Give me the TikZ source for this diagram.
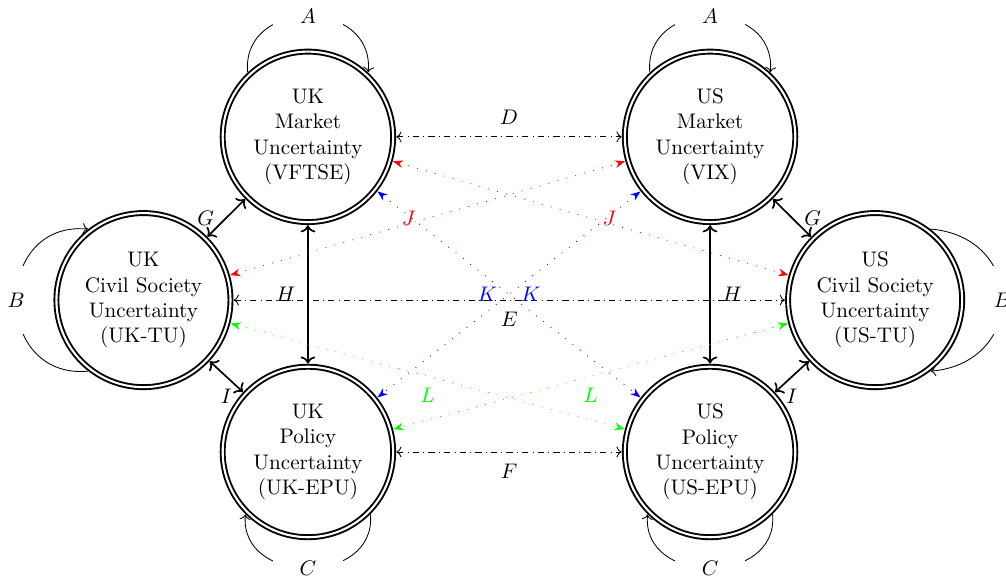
\documentclass[tikz,border=0pt]{standalone}
\usepackage{xcolor}
\usepackage{tikz}
\usetikzlibrary{arrows.meta}

\begin{document}
\begin{tikzpicture}[
    unc/.style={circle, draw, double, line width=0.9pt, double distance=1pt,
      minimum size=2.84cm, align=center, outer sep=1.5pt},
    link/.style={<->, thick},
    cross/.style={<->, dash dot},
    spill/.style={{Stealth}-{Stealth}, loosely dotted},
    edge label/.style={inner sep=5.5pt},
    loop label/.style={fill=white, inner xsep=0.45cm},
    side label/.style={fill=white, inner ysep=0.45cm},
  ]
  \useasboundingbox (-8.48,-4.67) rectangle (8.28,5);

  \node[unc] (ukm) at (-3.35, 2.72)  {UK\\Market\\Uncertainty\\(VFTSE)};
  \node[unc] (usm) at (3.35, 2.72)   {US\\Market\\Uncertainty\\(VIX)};
  \node[unc, minimum size=2.9cm] (ukc) at (-6.09, 0) {UK\\Civil Society\\Uncertainty\\(UK-TU)};
  \node[unc, minimum size=2.9cm] (usc) at (6.1, 0)   {US\\Civil Society\\Uncertainty\\(US-TU)};
  \node[unc] (ukp) at (-3.35, -2.53) {UK\\Policy\\Uncertainty\\(UK-EPU)};
  \node[unc] (usp) at (3.35, -2.53)  {US\\Policy\\Uncertainty\\(US-EPU)};

  \draw[->] (ukm.133) .. controls +(95:1.25) and +(85:1.25) .. node[loop label] {$A$} (ukm.47);
  \draw[->] (usm.133) .. controls +(95:1.25) and +(85:1.25) .. node[loop label] {$A$} (usm.47);
  \draw[->] (ukc.232) .. controls +(185:1.6) and +(175:1.6) .. node[side label] {$B$} (ukc.128);
  \draw[->] (usc.52) .. controls +(-5:1.6) and +(5:1.6) .. node[side label] {$B$} (usc.-52);
  \draw[->] (ukp.-45) .. controls +(-85:1.2) and +(-95:1.2) .. node[loop label] {$C$} (ukp.-135);
  \draw[->] (usp.-45) .. controls +(-85:1.2) and +(-95:1.2) .. node[loop label] {$C$} (usp.-135);

  \draw[cross] (ukm) -- node[edge label, above] {$D$} (usm);
  \draw[cross] (ukc) -- node[edge label, below] {$E$} (usc);
  \draw[cross] (ukp) -- node[edge label, below] {$F$} (usp);

  \draw[link] (ukm) -- node[edge label, left]  {$G$} (ukc);
  \draw[link] (usm) -- node[edge label, right] {$G$} (usc);
  \draw[link] (ukm) -- node[edge label, left]  {$H$} (ukp);
  \draw[link] (usm) -- node[edge label, right] {$H$} (usp);
  \draw[link] (ukc) -- node[edge label, below] {$I$} (ukp);
  \draw[link] (usc) -- node[edge label, below] {$I$} (usp);

  \draw[spill, red] (ukc) -- node[edge label, left]  {$J$} (usm);
  \draw[spill, red] (ukm) -- node[edge label, right] {$J$} (usc);
  \draw[spill, blue] (ukm) -- node[edge label, left]  {$K$} (usp);
  \draw[spill, blue] (usm) -- node[edge label, right] {$K$} (ukp);
  \draw[spill, green] (ukc) -- node[edge label, below] {$L$} (usp);
  \draw[spill, green] (usc) -- node[edge label, below] {$L$} (ukp);

\end{tikzpicture}
\end{document}
